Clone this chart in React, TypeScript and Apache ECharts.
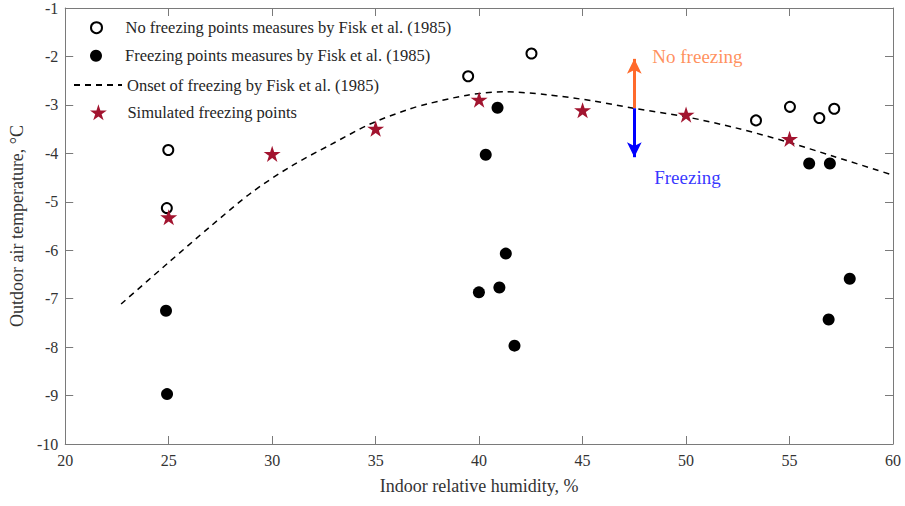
import React, { useEffect, useRef } from "react";
import * as echarts from "echarts";

const noFreezeX = [24.98, 24.91, 39.47, 42.53, 53.38, 55.02, 56.44, 57.16];
const noFreezeY = [-3.93, -5.13, -2.41, -1.94, -3.32, -3.04, -3.27, -3.08];

const freezeX = [24.87, 24.92, 40.89, 40.32, 41.29, 39.99, 40.98, 41.71, 55.95, 56.95, 57.91, 56.89];
const freezeY = [-7.25, -8.97, -3.06, -4.03, -6.07, -6.87, -6.77, -7.97, -4.21, -4.21, -6.59, -7.43];

const onsetX = [22.7, 24.95, 27.04, 28.97, 30.9, 32.83, 34.76, 36.53, 37.5, 39.43, 41.2, 43.28, 45.53, 47.46, 50.04, 52.45, 54.86, 57.11, 60.0];
const onsetY = [-7.11, -6.27, -5.5, -4.82, -4.27, -3.82, -3.39, -3.1, -2.98, -2.8, -2.73, -2.79, -2.92, -3.07, -3.25, -3.48, -3.76, -4.06, -4.45];

const simX = [25, 30, 35, 40, 45, 50, 55];
const simY = [-5.32, -4.01, -3.49, -2.89, -3.11, -3.2, -3.7];

const arrowX = 47.5;
const arrowBase = -3.07;
const arrowUpTip = -2.05;
const arrowDownTip = -4.08;

const annotationTexts = ["No freezing", "Freezing"];
const annotationX = [48.37, 48.46];
const annotationY = [-2.01, -4.49];

const seriesNames = [
  "No freezing points measures by Fisk et al. (1985)",
  "Freezing points measures by Fisk et al. (1985)",
  "Onset of freezing by Fisk et al. (1985)",
  "Simulated freezing points",
];

const xTicks = [20, 60, 5];
const yTicks = [-10, -1, 1];

const STAR =
  "path://M50,0 L61.2,34.5 L97.6,34.5 L68.2,55.9 L79.4,90.5 L50,69.1 L20.6,90.5 L31.8,55.9 L2.4,34.5 L38.8,34.5 Z";

const zip = (a: number[], b: number[]) => a.map((v, i) => [v, b[i]]);

export default function App() {
  const ref = useRef<HTMLDivElement>(null);
  useEffect(() => {
    if (!ref.current) return;
    const chart = echarts.init(ref.current, null, { renderer: "svg" });
    const font = "Liberation Serif";
    const axisColor = "#7a7a7a";
    const labelColor = "#333333";
    const legendRows = [27.7, 55.7, 85, 112.3];
    const legendIconH = [11, 12, 12, 16];
    const legendLeft = [90, 90, 73, 90];
    const legends = seriesNames.map((n, i) => ({
      data: [n],
      left: legendLeft[i],
      top: legendRows[i] - 10,
      orient: "vertical",
      itemWidth: 48,
      itemHeight: legendIconH[i],
      itemGap: 5,
      padding: 0,
      selectedMode: false,
      itemStyle: i === 2 ? { opacity: 0 } : { opacity: 1 },
      textStyle: { fontFamily: font, fontSize: 16.5, color: "#262626", lineHeight: 20, height: 20 },
    }));
    chart.setOption({
      animation: false,
      backgroundColor: "#ffffff",
      textStyle: { fontFamily: font },
      grid: { left: 64, right: 12, top: 6, bottom: 62, containLabel: false },
      legend: legends,
      xAxis: [
        {
          type: "value",
          min: xTicks[0],
          max: xTicks[1],
          interval: xTicks[2],
          name: "Indoor relative humidity, %",
          nameLocation: "middle",
          nameGap: 33,
          nameTextStyle: { fontFamily: font, fontSize: 18, color: labelColor },
          axisLine: { show: true, lineStyle: { color: axisColor, width: 1 } },
          axisTick: { show: true, inside: true, length: 8, lineStyle: { color: axisColor } },
          axisLabel: { fontFamily: font, fontSize: 16, color: labelColor, margin: 8 },
          splitLine: { show: false },
        },
        {
          type: "value",
          position: "top",
          min: xTicks[0],
          max: xTicks[1],
          interval: xTicks[2],
          axisLine: { show: true, lineStyle: { color: axisColor, width: 1 } },
          axisTick: { show: true, inside: true, length: 8, lineStyle: { color: axisColor } },
          axisLabel: { show: false },
          splitLine: { show: false },
        },
      ],
      yAxis: [
        {
          type: "value",
          min: yTicks[0],
          max: yTicks[1],
          interval: yTicks[2],
          name: "Outdoor air temperature, °C",
          nameLocation: "middle",
          nameGap: 38,
          nameTextStyle: { fontFamily: font, fontSize: 18, color: labelColor },
          axisLine: { show: true, lineStyle: { color: axisColor, width: 1 } },
          axisTick: { show: true, inside: true, length: 8, lineStyle: { color: axisColor } },
          axisLabel: { fontFamily: font, fontSize: 16, color: labelColor, margin: 7 },
          splitLine: { show: false },
        },
        {
          type: "value",
          position: "right",
          min: yTicks[0],
          max: yTicks[1],
          interval: yTicks[2],
          axisLine: { show: true, lineStyle: { color: axisColor, width: 1 } },
          axisTick: { show: true, inside: true, length: 8, lineStyle: { color: axisColor } },
          axisLabel: { show: false },
          splitLine: { show: false },
        },
      ],
      series: [
        {
          name: seriesNames[0],
          type: "scatter",
          symbol: "emptyCircle",
          symbolSize: 10,
          data: zip(noFreezeX, noFreezeY),
          itemStyle: { color: "#000000", borderColor: "#000000", borderWidth: 2.2, opacity: 1 },
          z: 2,
        },
        {
          name: seriesNames[1],
          type: "scatter",
          symbol: "circle",
          symbolSize: 12,
          data: zip(freezeX, freezeY),
          itemStyle: { color: "#000000", opacity: 1 },
          z: 2,
        },
        {
          name: seriesNames[2],
          type: "line",
          smooth: 0.3,
          symbol: "none",
          data: zip(onsetX, onsetY),
          lineStyle: { color: "#000000", width: 1.5, type: [6, 5] },
          itemStyle: { color: "#000000" },
          z: 3,
        },
        {
          name: seriesNames[3],
          type: "scatter",
          symbol: STAR,
          symbolSize: 17,
          symbolKeepAspect: true,
          data: zip(simX, simY),
          itemStyle: { color: "#A2142F", opacity: 1 },
          z: 4,
        },
        {
          name: "arrows",
          type: "scatter",
          data: [],
          silent: true,
          markLine: {
            silent: true,
            symbol: ["none", "arrow"],
            symbolSize: [11, 15],
            label: { show: false },
            emphasis: { disabled: true },
            data: [
              [
                { coord: [arrowX, arrowBase], lineStyle: { color: "#FF6A2B", width: 3, type: "solid" }, itemStyle: { color: "#FF6A2B" } },
                { coord: [arrowX, arrowUpTip] },
              ],
              [
                { coord: [arrowX, arrowBase], lineStyle: { color: "#0000FF", width: 3, type: "solid" }, itemStyle: { color: "#0000FF" } },
                { coord: [arrowX, arrowDownTip] },
              ],
            ],
          },
          z: 5,
        },
        {
          name: "annotations",
          type: "scatter",
          symbolSize: 0,
          silent: true,
          data: annotationTexts.map((t, i) => ({
            value: [annotationX[i], annotationY[i]],
            label: {
              show: true,
              position: "right",
              distance: 0,
              formatter: t,
              fontFamily: font,
              fontSize: 19,
              color: i === 0 ? "#FF7433" : "#0000FF",
            },
          })),
          z: 6,
        },
      ],
    });
    return () => chart.dispose();
  }, []);
  return <div ref={ref} style={{ width: 905, height: 506, position: "absolute", left: 0, top: 0 }} />;
}
